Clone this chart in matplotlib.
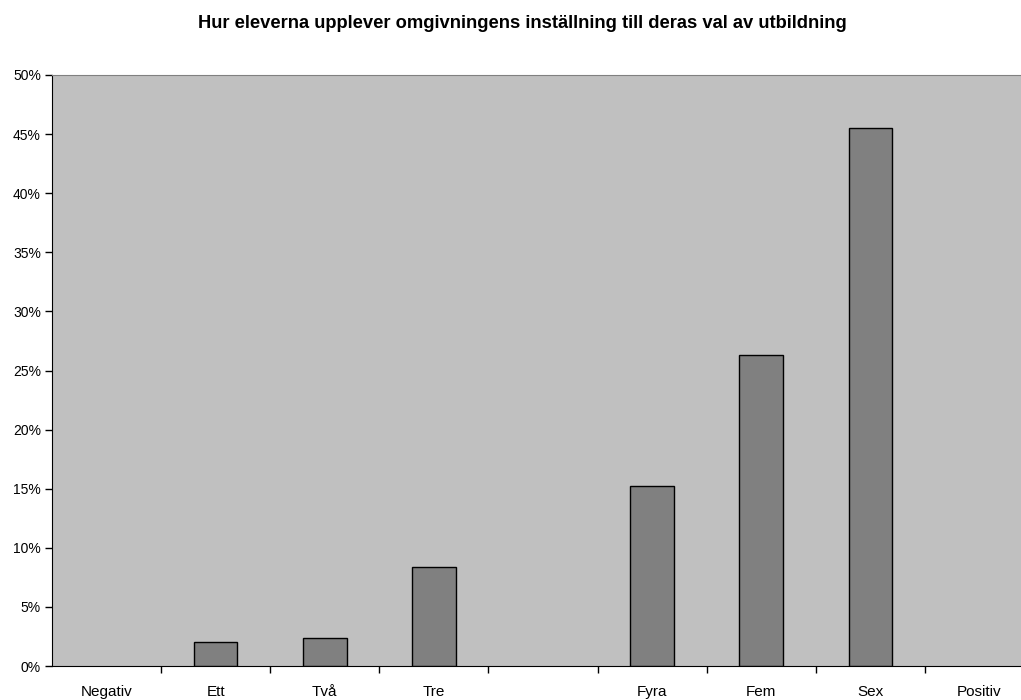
import matplotlib.pyplot as plt
import numpy as np

plt.rcParams['font.family'] = ['Liberation Sans', 'DejaVu Sans']

categories = ['Negativ', 'Ett', 'Två', 'Tre', '', 'Fyra', 'Fem', 'Sex', 'Positiv']
# empty cells (no bar) are None
values = [None, 2.0, 2.4, 8.4, None, 15.2, 26.3, 45.5, None]
yticks = [0, 5, 10, 15, 20, 25, 30, 35, 40, 45, 50]

fig = plt.figure(figsize=(10.21, 7), dpi=100)
# plot area runs a bit past the right edge, like the original
ax = fig.add_axes([52 / 1021, 1 - 666 / 700, (1034 - 52) / 1021, (666 - 75) / 700])
ax.set_facecolor('#C0C0C0')

x = np.arange(len(categories))
bx = [i for i, v in zip(x, values) if v is not None]
bv = [v for v in values if v is not None]
ax.bar(bx, bv, width=0.4, color='#808080', edgecolor='black', linewidth=1, zorder=3)

ax.set_xlim(-0.5, len(categories) - 0.5)
ax.set_ylim(0, 50)
ax.set_yticks(yticks)
ax.set_yticklabels([f'{v}%' for v in yticks], fontsize=10)

# ticks between categories, labels at the centres
ax.set_xticks(np.arange(len(categories) - 1) + 0.5)
ax.set_xticklabels([])
ax.set_xticks(x, minor=True)
ax.set_xticklabels(categories, minor=True, fontsize=11)
ax.tick_params(axis='x', which='minor', length=0, pad=14)
ax.tick_params(axis='x', which='major', length=5, width=1, direction='out')
ax.tick_params(axis='y', length=5, width=1, direction='out', pad=3)

ax.spines['top'].set_color('#808080')
ax.spines['right'].set_visible(False)
ax.spines['left'].set_color('black')
ax.spines['bottom'].set_color('black')

fig.text(522 / 1021, 1 - 23 / 700, 'Hur eleverna upplever omgivningens inställning till deras val av utbildning',
         ha='center', va='center', fontsize=13.2, fontweight='bold')

fig.savefig('out.png', dpi=100)
